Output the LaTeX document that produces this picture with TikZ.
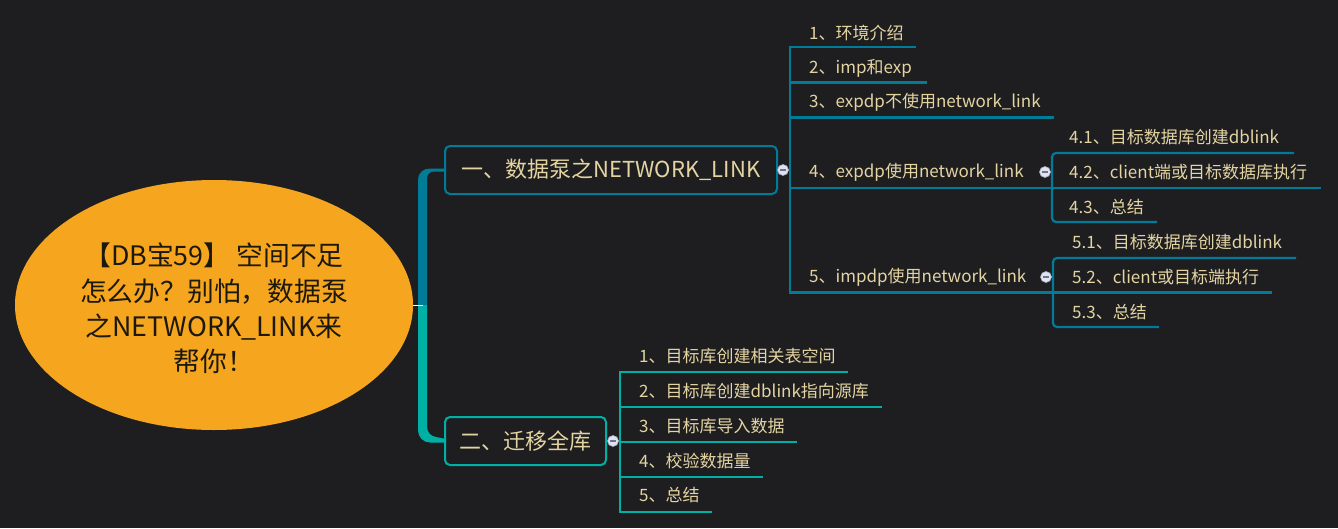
\documentclass[tikz,border=0pt]{standalone}
\usepackage{fontspec}
\setmainfont{Noto Sans CJK SC}
\usetikzlibrary{shapes.geometric}
\definecolor{bg}{RGB}{30,30,33}
\definecolor{orng}{RGB}{245,165,30}
\definecolor{bl}{RGB}{0,124,153}
\definecolor{tl}{RGB}{0,176,164}
\definecolor{tx}{RGB}{228,212,162}
\definecolor{dotc}{RGB}{222,226,242}
\definecolor{dotm}{RGB}{110,115,135}
\definecolor{roottx}{RGB}{28,24,12}
\tikzset{
  item/.style={anchor=west, text=tx, font=\fontsize{17}{19}\selectfont, inner sep=0pt},
  mainbox/.style={draw, line width=2pt, rounded corners=5pt, text=tx, font=\fontsize{22}{24}\selectfont, inner sep=0pt, minimum height=48pt},
  blink/.style={draw=bl, line width=2.2pt},
  tlink/.style={draw=tl, line width=2.2pt},
  collapse/.style={circle, fill=dotc, draw=dotm!60, line width=0.6pt, minimum size=11pt, inner sep=0pt,
    path picture={\draw[dotm, line width=1.3pt] ([xshift=-2.7pt]path picture bounding box.center) -- ([xshift=2.7pt]path picture bounding box.center);}},
}
\begin{document}
\begin{tikzpicture}[x=1pt,y=-1pt]
\fill[bg] (0,0) rectangle (1338,528);
\useasboundingbox (0,0) rectangle (1338,528);

% root
\node[ellipse, fill=orng, minimum width=398pt, minimum height=250pt, inner sep=0pt] (root) at (214,305) {};
\node[align=center, text=roottx, font=\fontsize{26.8}{35.2}\selectfont, inner sep=0pt] (roottext) at (214,308.5)
  {【DB宝59】 空间不足\\怎么办？别怕，数据泵\\之NETWORK\_LINK来\\帮你！};

% trunk
\fill[bl] (418,305) -- (418,180) .. controls (418,173) and (423,168.5) .. (430,168.5) -- (446,168.5) -- (446,171.5) -- (434,171.5) .. controls (430,171.5) and (427,174) .. (427,179) -- (427,305) -- cycle;
\fill[tl] (418,305) -- (418,430) .. controls (418,437) and (423,442.5) .. (430,442.5) -- (446,442.5) -- (446,439) -- (436,437) .. controls (430,436) and (427,432) .. (427,426) -- (427,305) -- cycle;
\coordinate (tickL) at (413,305.5);
\coordinate (tickR) at (423,305.5);
\draw[white, line width=1.5pt] (tickL) -- (tickR);

% main nodes
\node[mainbox, draw=bl, minimum width=332pt] (n1) at (611,170) {一、数据泵之NETWORK\_LINK};
\node[mainbox, draw=tl, minimum width=161pt] (n2) at (525.5,441) {二、迁移全库};

% branch of n1
\coordinate (v1) at (790,170);
\draw[blink] (783,170) -- (v1);
\draw[blink] (916,47) -- (790,47) -- (790,292.5) -- (1272,292.5);
\draw[blink] (790,82.5) -- (927,82.5);
\draw[blink] (790,117.5) -- (1054,117.5);
\draw[blink] (790,188) -- (1321,188);
\draw[blink, rounded corners=4pt] (1294,153) -- (1052,153) -- (1052,222) -- (1157,222);
\draw[blink, rounded corners=4pt] (1296,258) -- (1053,258) -- (1053,327) -- (1159,327);
\draw[blink] (1045,172) -- (1052,172);
\draw[blink] (1046,277) -- (1053,277);

\node[item] (a1) at (809,33) {1、环境介绍};
\node[item] (a2) at (809,68) {2、imp和exp};
\node[item] (a3) at (809,102.5) {3、expdp不使用network\_link};
\node[item] (a4) at (809,172) {4、expdp使用network\_link};
\node[item] (a5) at (809,277) {5、impdp使用network\_link};
\node[item] (a41) at (1069,137.5) {4.1、目标数据库创建dblink};
\node[item] (a42) at (1069,172.5) {4.2、client端或目标数据库执行};
\node[item] (a43) at (1069,207) {4.3、总结};
\node[item] (a51) at (1072,242.5) {5.1、目标数据库创建dblink};
\node[item] (a52) at (1072,277.5) {5.2、client或目标端执行};
\node[item] (a53) at (1072,312) {5.3、总结};

% branch of n2
\coordinate (v2) at (620,441);
\draw[tlink] (613,441) -- (v2);
\draw[tlink] (848,372) -- (620,372) -- (620,512) -- (712,512);
\draw[tlink] (620,407) -- (882,407);
\draw[tlink] (620,442) -- (797,442);
\draw[tlink] (620,477) -- (763,477);

\node[item] (b1) at (639,356.5) {1、目标库创建相关表空间};
\node[item] (b2) at (639,391.5) {2、目标库创建dblink指向源库};
\node[item] (b3) at (639,426.5) {3、目标库导入数据};
\node[item] (b4) at (639,461) {4、校验数据量};
\node[item] (b5) at (639,495.5) {5、总结};

% collapse dots
\node[collapse] (d1) at (783,170) {};
\node[collapse] (d2) at (613,441) {};
\node[collapse] (d4) at (1045,172) {};
\node[collapse] (d5) at (1046,277) {};
\end{tikzpicture}
\end{document}
